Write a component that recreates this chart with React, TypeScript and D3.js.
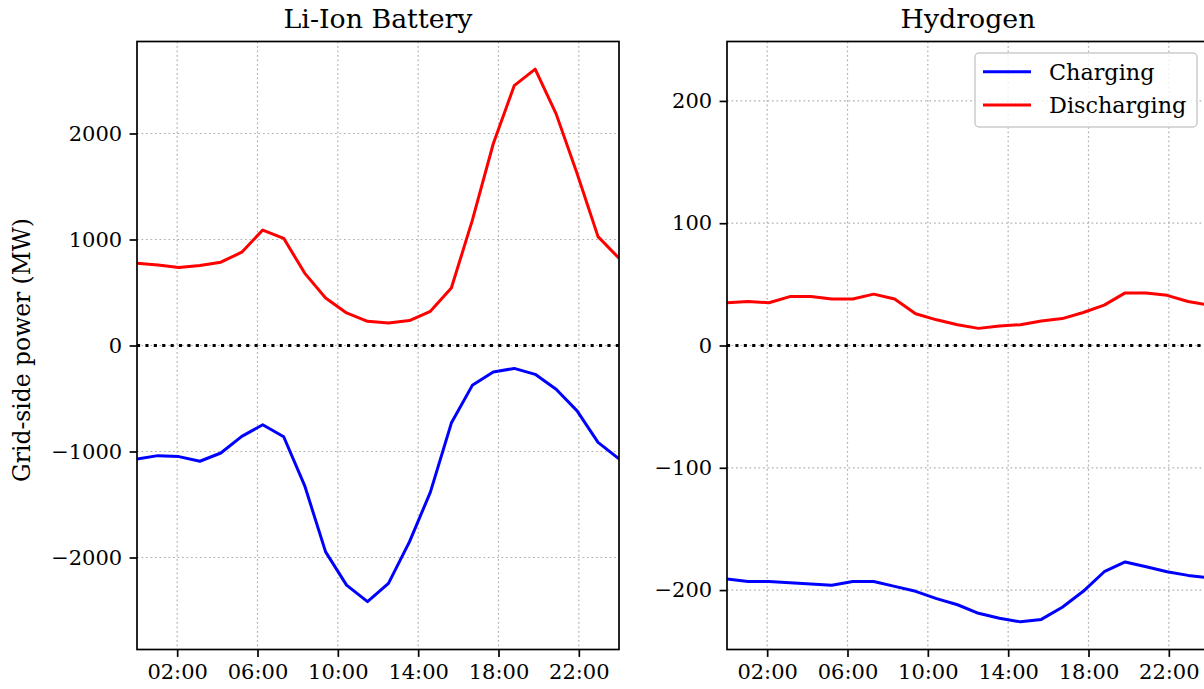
import { useEffect, useRef } from 'react';
import * as d3 from 'd3';

// x tick labels (hours of the day)
const hourLabels = ['02:00', '06:00', '10:00', '14:00', '18:00', '22:00'];
const seriesNames = ['Charging', 'Discharging'];
const seriesColors = ['blue', 'red'];

// grid-side power, 24 samples spread over the day (MW)
const liIonCharging = [
  -1070, -1039, -1048, -1092, -1014, -857, -748, -861, -1321, -1947, -2260, -2416,
  -2244, -1853, -1383, -732, -376, -250, -216, -272, -413, -617, -914, -1070,
];
const liIonDischarging = [
  776, 760, 735, 754, 786, 880, 1089, 1011, 683, 448, 307, 228,
  213, 235, 322, 542, 1180, 1903, 2451, 2607, 2185, 1622, 1027, 823,
];
const hydrogenCharging = [
  -191, -193, -193, -194, -195, -196, -193, -193, -197, -201, -207, -212,
  -219, -223, -226, -224, -214, -201, -185, -177, -181, -185, -188, -190,
];
const hydrogenDischarging = [
  35, 36, 35, 40, 40, 38, 38, 42, 38, 26, 21, 17,
  14, 16, 17, 20, 22, 27, 33, 43, 43, 41, 36, 33,
];
const liIonTicks = [-2000, -1000, 0, 1000, 2000];
const hydrogenTicks = [-200, -100, 0, 100, 200];

const App = () => {
  const ref = useRef<SVGSVGElement>(null);

  useEffect(() => {
    const svg = d3.select(ref.current);
    svg.selectAll('*').remove();

    const font = "'DejaVu Serif', serif";
    const top = 41.5;
    const bottom = 649.5;
    const plotW = 482;
    const parseHour = d3.timeParse('%H:%M');
    const day = parseHour('00:00') as Date;

    const panels = [
      { title: 'Li-Ion Battery', left: 137, charging: liIonCharging, discharging: liIonDischarging, ticks: liIonTicks, legend: false },
      { title: 'Hydrogen', left: 727, charging: hydrogenCharging, discharging: hydrogenDischarging, ticks: hydrogenTicks, legend: true },
    ];

    panels.forEach((p, pi) => {
      const right = p.left + plotW;
      const x = d3.scaleTime()
        .domain([day, d3.timeHour.offset(day, 24)])
        .range([p.left, right]);
      const n = p.charging.length;
      const timeAt = (i: number) => new Date(+day + (i * 24 * 3600e3) / (n - 1));
      const maxAbs = (d3.max([...p.charging, ...p.discharging], v => Math.abs(v)) as number) * 1.1;
      const y = d3.scaleLinear().domain([-maxAbs, maxAbs]).range([bottom, top]);
      const tickTimes = hourLabels.map(h => parseHour(h) as Date);

      const g = svg.append('g');

      const clipId = `clip-${pi}`;
      g.append('clipPath').attr('id', clipId)
        .append('rect')
        .attr('x', p.left).attr('y', top)
        .attr('width', plotW).attr('height', bottom - top);

      // grid
      g.selectAll('.vgrid').data(tickTimes).enter().append('line')
        .attr('x1', d => x(d)).attr('x2', d => x(d))
        .attr('y1', top).attr('y2', bottom)
        .attr('stroke', '#b0b0b0').attr('stroke-width', 1.2)
        .attr('stroke-dasharray', '1.7,2.8');
      g.selectAll('.hgrid').data(p.ticks).enter().append('line')
        .attr('x1', p.left).attr('x2', right)
        .attr('y1', d => y(d)).attr('y2', d => y(d))
        .attr('stroke', '#b0b0b0').attr('stroke-width', 1.2)
        .attr('stroke-dasharray', '1.7,2.8');

      const plot = g.append('g').attr('clip-path', `url(#${clipId})`);

      // zero line
      plot.append('line')
        .attr('x1', p.left).attr('x2', right)
        .attr('y1', y(0)).attr('y2', y(0))
        .attr('stroke', 'black').attr('stroke-width', 3.1)
        .attr('stroke-dasharray', '3.1,5.3');

      const line = d3.line<number>()
        .x((_, i) => x(timeAt(i)))
        .y(d => y(d));

      [p.charging, p.discharging].forEach((s, si) => {
        plot.append('path')
          .datum(s)
          .attr('fill', 'none')
          .attr('stroke', seriesColors[si])
          .attr('stroke-width', 3)
          .attr('stroke-linejoin', 'round')
          .attr('d', line);
      });

      // axes
      const xAxis = g.append('g')
        .attr('transform', `translate(0, ${bottom})`)
        .call(d3.axisBottom(x).tickValues(tickTimes).tickFormat(d3.timeFormat('%H:%M') as any)
          .tickSize(7.4).tickPadding(7.4));
      const yAxis = g.append('g')
        .attr('transform', `translate(${p.left}, 0)`)
        .call(d3.axisLeft(y).tickValues(p.ticks).tickFormat(d3.format('d'))
          .tickSize(7.4).tickPadding(7.4));
      [xAxis, yAxis].forEach(a => {
        a.select('.domain').remove();
        a.selectAll('line').attr('stroke', 'black').attr('stroke-width', 1.7);
        a.selectAll('text').attr('font-family', font).attr('font-size', 21).attr('fill', 'black');
      });

      // spines
      g.append('rect')
        .attr('x', p.left).attr('y', top)
        .attr('width', plotW).attr('height', bottom - top)
        .attr('fill', 'none').attr('stroke', 'black').attr('stroke-width', 1.7);

      g.append('text')
        .attr('x', (p.left + right) / 2).attr('y', 28.4)
        .attr('text-anchor', 'middle')
        .attr('font-family', font).attr('font-size', 26.8)
        .text(p.title);

      if (p.legend) {
        const lx = right - 234;
        const ly = 53;
        const lg = g.append('g');
        lg.append('rect')
          .attr('x', lx).attr('y', ly)
          .attr('width', 222).attr('height', 74)
          .attr('rx', 4)
          .attr('fill', 'white').attr('fill-opacity', 0.8)
          .attr('stroke', '#cccccc').attr('stroke-width', 1.5);
        seriesNames.forEach((name, i) => {
          const cy = ly + 18.7 + i * 33.3;
          lg.append('line')
            .attr('x1', lx + 8).attr('x2', lx + 56)
            .attr('y1', cy).attr('y2', cy)
            .attr('stroke', seriesColors[i]).attr('stroke-width', 3);
          lg.append('text')
            .attr('x', lx + 74).attr('y', cy + 8)
            .attr('font-family', font).attr('font-size', 22.3)
            .text(name);
        });
      }
    });

    svg.append('text')
      .attr('transform', 'translate(22, 350) rotate(-90)')
      .attr('text-anchor', 'middle')
      .attr('dominant-baseline', 'central')
      .attr('font-family', font).attr('font-size', 23.4)
      .text('Grid-side power (MW)');
  }, []);

  return (
    <svg
      ref={ref}
      width={1204}
      height={689}
      style={{ position: 'absolute', left: 0, top: 0, background: '#fff' }}
    />
  );
};

export default App;
